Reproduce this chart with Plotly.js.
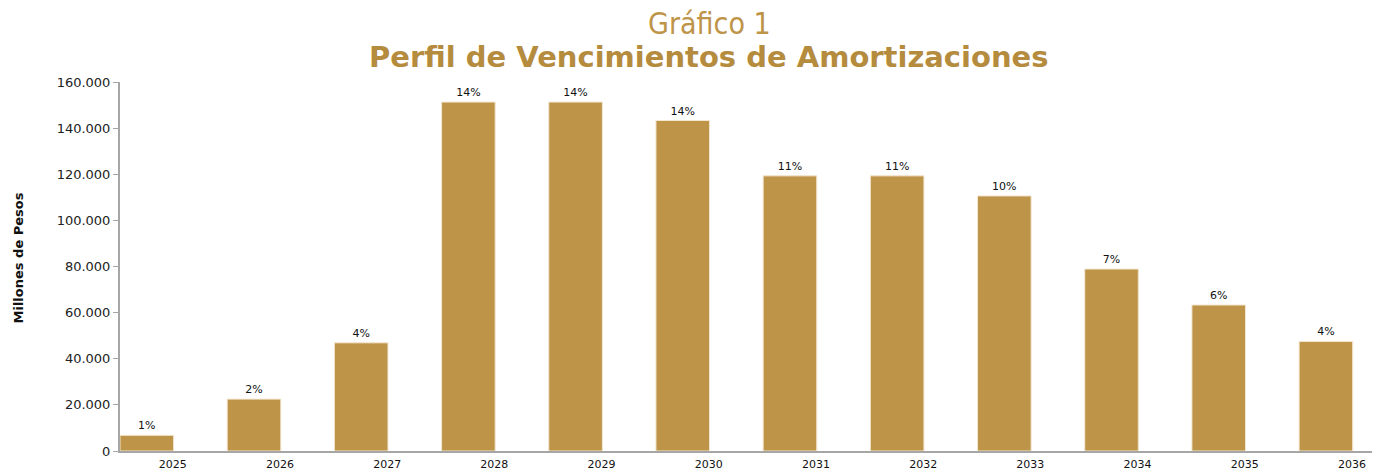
<!DOCTYPE html>
<html>
<head>
<meta charset="utf-8">
<script src="https://cdn.plot.ly/plotly-3.0.1.min.js"></script>
<style>html,body{margin:0;padding:0;background:#fff;}#chart{width:1386px;height:471px;}</style>
</head>
<body>
<div id="chart"></div>
<script>
const years = ["2025","2026","2027","2028","2029","2030","2031","2032","2033","2034","2035","2036"];
const amounts = [6800, 22500, 46900, 151300, 151300, 143300, 119300, 119300, 110600, 78900, 63300, 47500];
const shares = ["1%","2%","4%","14%","14%","14%","11%","11%","10%","7%","6%","4%"];
const titleTop = "Gráfico 1";
const titleMain = "Perfil de Vencimientos de Amortizaciones";
const yTitle = "Millones de Pesos";

const gold = "#BE9449";
const trace = {
  type: "bar",
  x: years,
  y: amounts,
  text: shares,
  textposition: "outside",
  cliponaxis: false,
  textfont: {family: "DejaVu Sans, Verdana, sans-serif", size: 11, color: "#111"},
  marker: {color: gold, line: {color: "#F3E7D0", width: 1}},
  width: 0.5,
  hoverinfo: "x+y"
};

const layout = {
  width: 1386, height: 471,
  margin: {l: 120, r: 14, t: 82, b: 20},
  paper_bgcolor: "#fff", plot_bgcolor: "#fff",
  showlegend: false,
  separators: ",.",
  font: {family: "DejaVu Sans, Verdana, sans-serif", color: "#222"},
  xaxis: {
    type: "category",
    range: [-0.25, 11.43],
    showgrid: false, zeroline: false,
    showline: true, linecolor: "#A6A6A6", linewidth: 2,
    ticks: "",
    tickfont: {size: 11, color: "#111"},
    ticklabelstandoff: 2,
    ticklabelshift: 26
  },
  yaxis: {
    range: [0, 160000],
    tickvals: [0,20000,40000,60000,80000,100000,120000,140000,160000],
    tickformat: ",d",
    showgrid: false, zeroline: false,
    showline: true, linecolor: "#A6A6A6", linewidth: 2,
    ticks: "outside", ticklen: 5, tickcolor: "#A6A6A6", tickwidth: 1,
    tickfont: {size: 13, color: "#222"}
  },
  annotations: [
    {text: titleTop, xref: "paper", yref: "paper", x: 0.4705, y: 1, yshift: 59, showarrow: false,
     xanchor: "center", yanchor: "middle",
     font: {family: "DejaVu Sans Condensed, Liberation Sans Narrow, sans-serif", size: 30, color: "#BE9449"}},
    {text: "<b>" + titleMain + "</b>", xref: "paper", yref: "paper", x: 0.4705, y: 1, yshift: 25, showarrow: false,
     xanchor: "center", yanchor: "middle",
     font: {family: "DejaVu Sans, Verdana, sans-serif", size: 29, color: "#B58B3E"}},
    {text: "<b>" + yTitle + "</b>", xref: "paper", yref: "paper", x: 0, xshift: -102, y: 0.5, yshift: 8,
     showarrow: false, textangle: -90, xanchor: "center", yanchor: "middle",
     font: {family: "DejaVu Sans, Verdana, sans-serif", size: 13, color: "#111"}}
  ]
};

Plotly.newPlot("chart", [trace], layout, {displayModeBar: false, staticPlot: true});
</script>
</body>
</html>
